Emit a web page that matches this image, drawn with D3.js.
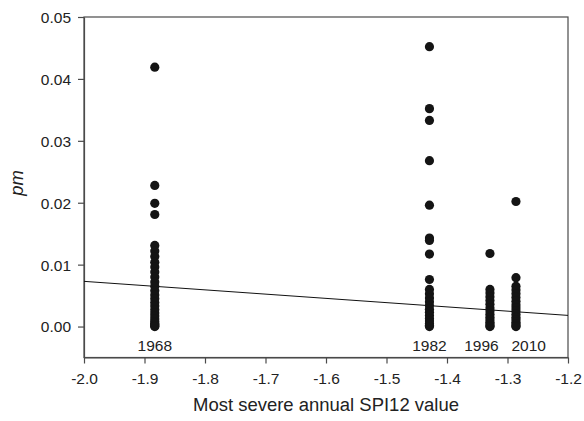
<!DOCTYPE html>
<html><head><meta charset="utf-8">
<script src="https://cdn.jsdelivr.net/npm/d3@7/dist/d3.min.js"></script>
<style>body{margin:0;background:#fff}svg text{font-family:"Liberation Sans",Arial,sans-serif;fill:#222}</style>
</head><body><svg id="c" width="584" height="421"></svg>
<script>
const years = ["1968","1982","1996","2010"];
const spi = [-1.883, -1.429, -1.329, -1.286];
const labelSpi = [-1.883, -1.429, -1.343, -1.265];
const pm1968 = [0.0419,0.0228,0.0199,0.0181,0.0131,0.0122,0.0113,0.0104,0.0096,0.0088,0.0080,0.0072,0.0065,0.0058,0.0051,0.0045,0.0039,0.0033,0.0027,0.0022,0.0017,0.0012,0.0008,0.0005,0.0003,0.0001,0.0000];
const pm1982 = [0.0452,0.0352,0.0333,0.0268,0.0196,0.0143,0.0139,0.0117,0.0076,0.0060,0.0053,0.0046,0.0040,0.0034,0.0028,0.0023,0.0018,0.0013,0.0009,0.0005,0.0002,0.0000];
const pm1996 = [0.0118,0.0060,0.0054,0.0048,0.0042,0.0036,0.0030,0.0025,0.0020,0.0015,0.0011,0.0007,0.0004,0.0001,0.0000];
const pm2010 = [0.0202,0.0079,0.0065,0.0059,0.0053,0.0047,0.0041,0.0035,0.0030,0.0025,0.0020,0.0015,0.0011,0.0007,0.0004,0.0001,0.0000];
const fitX = [-2.0, -1.2];
const fitY = [0.0073, 0.0018];
const xTicks = [-2.0,-1.9,-1.8,-1.7,-1.6,-1.5,-1.4,-1.3,-1.2];
const yTicks = [0,0.01,0.02,0.03,0.04,0.05];
const groups = [pm1968, pm1982, pm1996, pm2010];

const svg = d3.select("#c");
const L=84, R=568, T=17, B=357.5;
const x = d3.scaleLinear().domain([-2.0,-1.2]).range([L,R]);
const y = d3.scaleLinear().domain([-0.005,0.05]).range([B,T]);
const axCol = "#4a4a4a";
const FS = 15.5;

svg.append("rect").attr("x",L).attr("y",T).attr("width",R-L).attr("height",B-T)
  .attr("fill","none").attr("stroke",axCol).attr("stroke-width",1.2);

const fx = d => d3.format(".1f")(d).replace("\u2212","-");
const xa = svg.append("g").attr("transform",`translate(0,${B})`)
  .call(d3.axisBottom(x).tickValues(xTicks).tickFormat(fx).tickSize(6).tickSizeOuter(0));
const ya = svg.append("g").attr("transform",`translate(${L},0)`)
  .call(d3.axisLeft(y).tickValues(yTicks).tickFormat(d3.format(".2f")).tickSize(6).tickSizeOuter(0));
[xa,ya].forEach(a=>{
  a.attr("font-size",FS).attr("font-family",null);
  a.select(".domain").attr("stroke",axCol).attr("stroke-width",1.2);
  a.selectAll(".tick line").attr("stroke",axCol).attr("stroke-width",1.2);
  a.selectAll(".tick text").attr("fill","#222");
});
xa.selectAll(".tick text").attr("y",0).attr("dy",0).attr("transform","translate(0,26)");
ya.selectAll(".tick text").attr("x",-13).attr("dy","0.35em");

svg.append("line").attr("x1",x(fitX[0])).attr("y1",y(fitY[0])).attr("x2",x(fitX[1])).attr("y2",y(fitY[1]))
  .attr("stroke","#111").attr("stroke-width",1);

groups.forEach((g,i)=>{
  svg.append("g").selectAll("circle").data(g).join("circle")
    .attr("cx",x(spi[i])).attr("cy",d=>y(d)).attr("r",4.6).attr("fill","#141414");
  svg.append("text").attr("x",x(labelSpi[i])).attr("y",350.5).attr("text-anchor","middle")
    .attr("font-size",FS).text(years[i]);
});

const t = svg.append("text").attr("x",(L+R)/2).attr("y",410.5).attr("text-anchor","middle")
  .attr("font-size",16).text("Most severe annual SPI12 value");
const w = t.node().getComputedTextLength();
t.attr("font-size", 16*266/w);
svg.append("text").attr("transform","translate(23,183) rotate(-90)").attr("text-anchor","middle")
  .attr("font-size",16*266/w).attr("font-style","italic").text("pm");
</script></body></html>
